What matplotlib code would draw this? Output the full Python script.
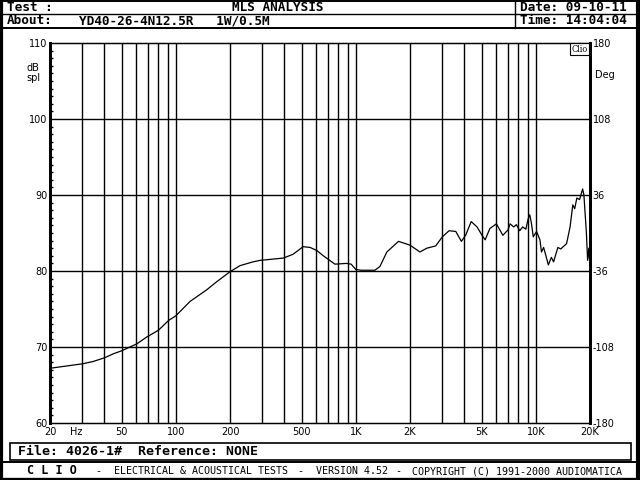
import numpy as np
import matplotlib
matplotlib.use('Agg')
import matplotlib.pyplot as plt
from matplotlib.lines import Line2D
from matplotlib.patches import Rectangle

# 주파수 응답 (읽은 값)
freq = [20, 24.7, 30.5, 34.8, 40.4, 44.9, 50, 55.6, 60.6, 68.8, 80, 91.3, 100, 120,
        148, 169, 200, 227, 268, 294, 396, 448, 510, 557, 607, 660, 766, 887, 942,
        1000, 1070, 1277, 1362, 1487, 1727, 2000, 2272, 2478, 2779, 3026, 3297, 3594,
        3858, 4075, 4374, 4716, 5024, 5230, 5560, 6040, 6560, 7000, 7200, 7540, 7800,
        8140, 8450, 8800, 9080, 9250, 9450, 9680, 10100, 10540, 10750, 11050, 11350,
        11740, 12200, 12550, 13260, 13750, 14820, 15500, 16050, 16450, 16900, 17500,
        18200, 18500, 19100, 19400, 19700, 20000]
spl = [67.2, 67.5, 67.8, 68.1, 68.6, 69.1, 69.5, 70.0, 70.4, 71.3, 72.2, 73.5, 74.1,
       76.0, 77.5, 78.6, 79.9, 80.7, 81.2, 81.4, 81.7, 82.2, 83.2, 83.1, 82.7, 82.0,
       80.9, 81.0, 80.9, 80.2, 80.1, 80.1, 80.6, 82.5, 83.9, 83.4, 82.5, 83.0, 83.3,
       84.5, 85.3, 85.2, 83.9, 84.7, 86.5, 85.8, 84.7, 84.1, 85.6, 86.2, 84.7, 85.4,
       86.2, 85.8, 86.1, 85.3, 85.8, 85.5, 86.9, 87.4, 86.3, 84.5, 85.2, 84.1, 82.5,
       83.1, 82.1, 80.8, 81.8, 81.2, 83.1, 82.9, 83.6, 85.8, 88.7, 88.2, 89.6, 89.4,
       90.8, 90.0, 85.0, 81.4, 83.0, 80.5]

ytick_l = [60, 70, 80, 90, 100, 110]
ytick_r = ['-180', '-108', '-36', '36', '108', '180']
xtick_v = [20, 28, 50, 100, 200, 500, 1000, 2000, 5000, 10000, 20000]
xtick_l = ['20', 'Hz', '50', '100', '200', '500', '1K', '2K', '5K', '10K', '20K']

W, H = 640, 480
fig = plt.figure(figsize=(6.4, 4.8), dpi=100)
fig.patch.set_facecolor('white')

def fx(x):
    return x / W

def fy(y):
    return 1 - y / H

def hline(y, x0, x1, lw=1.0):
    fig.add_artist(Line2D([fx(x0), fx(x1)], [fy(y), fy(y)], color='black', lw=lw))

def vline(x, y0, y1, lw=1.0):
    fig.add_artist(Line2D([fx(x), fx(x)], [fy(y0), fy(y1)], color='black', lw=lw))

# 외곽 프레임
hline(0.8, 0, 640, lw=1.4)
hline(478.8, 0, 640, lw=2.4)
vline(1.2, 0, 480, lw=3)
vline(638.3, 0, 480, lw=3)
hline(14.2, 2, 638, lw=1)
hline(27.5, 2, 638, lw=1.4)
vline(515, 1, 27.5, lw=1)
hline(462, 2, 638, lw=1.4)
fig.add_artist(Rectangle((fx(10), fy(460)), 621 / W, 17 / H, fill=False,
                         edgecolor='black', lw=1.2))

mono = dict(family='DejaVu Sans Mono', fontweight='bold', fontsize=9.2, va='center')
fig.text(fx(7), fy(7.8), 'Test :', **mono)
fig.text(fx(278), fy(7.8), 'MLS ANALYSIS', ha='center', **mono)
fig.text(fx(7), fy(21), 'About:', **mono)
fig.text(fx(79), fy(21), 'YD40-26-4N12.5R   1W/0.5M', **mono)
fig.text(fx(520), fy(7.8), 'Date: 09-10-11', **mono)
fig.text(fx(520), fy(21), 'Time: 14:04:04', **mono)
fig.text(fx(18), fy(451.5), 'File: 4026-1#  Reference: NONE',
         family='DejaVu Sans Mono', fontweight='bold', fontsize=9.5, va='center')

# 하단 문구
foot = dict(family='DejaVu Sans Mono', fontsize=7.2, va='center')
fig.text(fx(27), fy(471), 'C L I O', ha='left', va='center',
         family='DejaVu Sans Mono', fontweight='bold', fontsize=8.5)
fig.text(fx(98), fy(471), '-', ha='center', **foot)
fig.text(fx(201), fy(471), 'ELECTRICAL & ACOUSTICAL TESTS', ha='center', **foot)
fig.text(fx(300), fy(471), '-', ha='center', **foot)
fig.text(fx(352), fy(471), 'VERSION 4.52', ha='center', **foot)
fig.text(fx(398), fy(471), '-', ha='center', **foot)
fig.text(fx(517), fy(471), 'COPYRIGHT (C) 1991-2000 AUDIOMATICA', ha='center', **foot)

# 그래프 영역
ax = fig.add_axes([fx(50), fy(423), 540 / W, 380 / H])
ax.set_xscale('log')
ax.set_xlim(20, 20000)
ax.set_ylim(60, 110)

grid_f = [m * 10 ** e for e in range(1, 5) for m in range(1, 10)]
grid_f = [g for g in grid_f if 20 < g < 20000]
for g in grid_f:
    ax.axvline(g, color='black', lw=1)
for v in ytick_l[1:-1]:
    ax.axhline(v, color='black', lw=1)

ax.plot(freq, spl, color='black', lw=0.9)

for s in ax.spines.values():
    s.set_linewidth(1)
ax.spines['left'].set_linewidth(2)
ax.spines['right'].set_linewidth(2)

ax.set_yticks(ytick_l)
ax.set_yticks(np.arange(60, 111, 1), minor=True)
ax.tick_params(axis='y', which='major', direction='in', length=0, labelsize=7, pad=2)
ax.tick_params(axis='y', which='minor', direction='in', length=2.5, width=1,
               left=True, right=True)
ax.set_xticks(xtick_v)
ax.set_xticklabels(xtick_l)
ax.xaxis.set_minor_locator(matplotlib.ticker.NullLocator())
ax.tick_params(axis='x', direction='in', length=0, labelsize=7, pad=3)

ax2 = ax.twinx()
ax2.set_ylim(60, 110)
ax2.set_yticks(ytick_l)
ax2.set_yticklabels(ytick_r)
ax2.tick_params(axis='y', direction='in', length=0, labelsize=7, pad=2)
ax2.spines['right'].set_linewidth(2)
ax2.spines['left'].set_linewidth(2)

fig.text(fx(33), fy(73), 'dB\nspl', ha='center', va='center', fontsize=7,
         linespacing=1.0)
fig.text(fx(605), fy(75), 'Deg', ha='center', va='center', fontsize=7)
ax.text(0.995, 0.996, 'Clio', transform=ax.transAxes, ha='right', va='top',
        fontsize=6.5, family='DejaVu Serif', fontstretch='condensed',
        bbox=dict(boxstyle='square,pad=0.15', fc='white', ec='black', lw=0.8))

fig.savefig('out.png', dpi=100)
